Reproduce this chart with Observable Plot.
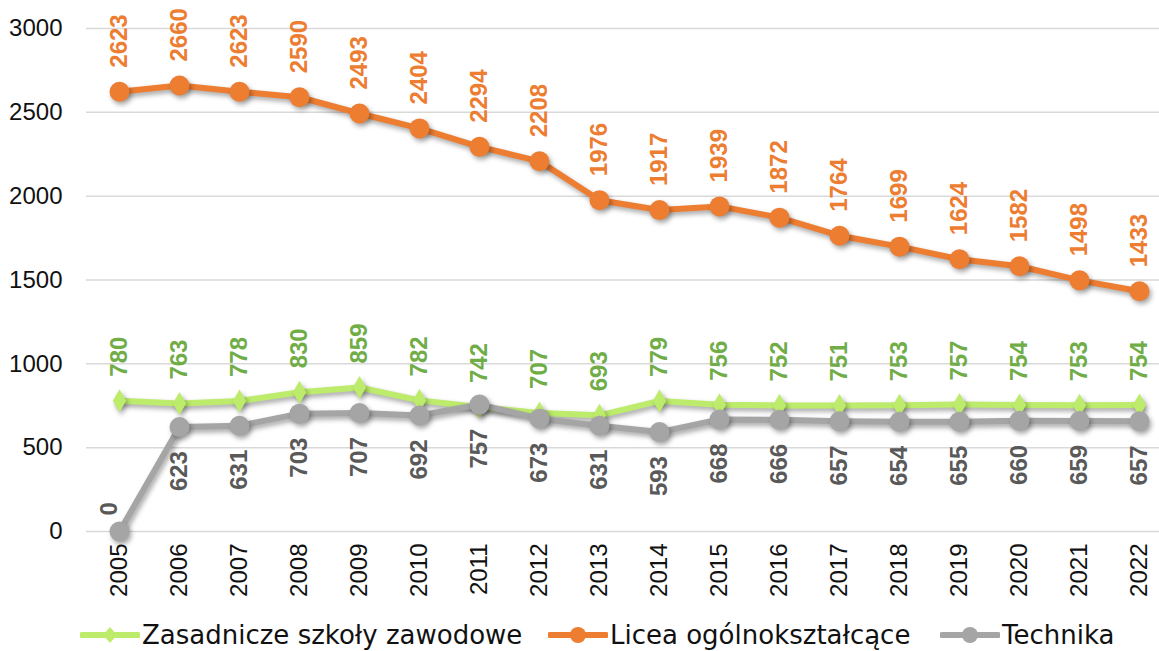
<!DOCTYPE html>
<html>
<head>
<meta charset="utf-8">
<script src="https://cdn.jsdelivr.net/npm/d3@7"></script>
<script src="https://cdn.jsdelivr.net/npm/@observablehq/plot@0.6"></script>
<style>
  html, body { margin: 0; padding: 0; background: #fff; }
  #wrap { position: relative; width: 1159px; height: 651px; overflow: hidden; }
  #chart svg g[aria-label="line"], #chart svg g[aria-label="dot"] {
    filter: drop-shadow(2px 3px 2.5px rgba(0,0,0,0.35));
  }
  #legend { position: absolute; left: 0; top: 617px; width: 1159px; height: 36px; font-family: "DejaVu Sans", sans-serif; font-size: 26px; color: #111; }
  .item { position: absolute; top: 0; height: 36px; display: flex; align-items: center; }
  .item svg { margin-right: 2px; }
</style>
</head>
<body>
<div id="wrap">
  <div id="chart"></div>
  <div id="legend"></div>
</div>
<script>
const years = [2005,2006,2007,2008,2009,2010,2011,2012,2013,2014,2015,2016,2017,2018,2019,2020,2021,2022];
const zasadnicze = [780,763,778,830,859,782,742,707,693,779,756,752,751,753,757,754,753,754];
const licea = [2623,2660,2623,2590,2493,2404,2294,2208,1976,1917,1939,1872,1764,1699,1624,1582,1498,1433];
const technika = [0,623,631,703,707,692,757,673,631,593,668,666,657,654,655,660,659,657];
const yTicks = [0,500,1000,1500,2000,2500,3000];
const seriesNames = ["Zasadnicze szkoły zawodowe", "Licea ogólnokształcące", "Technika"];

const colors = {
  zLine: "#BDEB6C", zLabel: "#70AD47",
  lLine: "#ED7D31", lLabel: "#ED7D31",
  tLine: "#A5A5A5", tLabel: "#595959"
};

const zData = years.map((y, i) => ({year: y, value: zasadnicze[i]}));
const lData = years.map((y, i) => ({year: y, value: licea[i]}));
const tData = years.map((y, i) => ({year: y, value: technika[i]}));
const tBelow = tData.filter(d => d.value !== 0);
const tAbove = tData.filter(d => d.value === 0);

const labelFont = {fontFamily: "Liberation Sans, Arial, sans-serif", fontWeight: "bold", fontSize: 24};

const plot = Plot.plot({
  width: 1159,
  height: 615,
  marginLeft: 86,
  marginRight: 0,
  marginTop: 28,
  marginBottom: 84,
  style: {fontFamily: "Liberation Sans, Arial, sans-serif", fontSize: "24px", color: "#111", background: "#fff"},
  x: {type: "point", domain: years, range: [116, 1142], padding: 0, axis: null},
  y: {domain: [0, 3000], axis: null},
  marks: [
    Plot.ruleY(yTicks, {stroke: "#d9d9d9", strokeWidth: 1.5}),
    Plot.axisY({ticks: yTicks, tickSize: 0, tickPadding: 24, fontSize: 24, fill: "#111", label: null, tickFormat: d => String(d)}),
    Plot.axisX({tickSize: 0, tickRotate: -90, tickPadding: 12, fontSize: 24, fill: "#111", label: null, tickFormat: d => String(d)}),
    Plot.line(zData, {x: "year", y: "value", stroke: colors.zLine, strokeWidth: 6}),
    Plot.dot(zData, {x: "year", y: "value", symbol: "diamond", r: 7, fill: colors.zLine}),
    Plot.line(tData, {x: "year", y: "value", stroke: colors.tLine, strokeWidth: 6}),
    Plot.dot(tData, {x: "year", y: "value", r: 10, fill: colors.tLine}),
    Plot.line(lData, {x: "year", y: "value", stroke: colors.lLine, strokeWidth: 6}),
    Plot.dot(lData, {x: "year", y: "value", r: 10, fill: colors.lLine}),
    Plot.text(lData, {x: "year", y: "value", text: d => String(d.value), rotate: -90, textAnchor: "start", lineAnchor: "middle", dy: -24, fill: colors.lLabel, ...labelFont}),
    Plot.text(zData, {x: "year", y: "value", text: d => String(d.value), rotate: -90, textAnchor: "start", lineAnchor: "middle", dy: -24, fill: colors.zLabel, ...labelFont}),
    Plot.text(tBelow, {x: "year", y: "value", text: d => String(d.value), rotate: -90, textAnchor: "end", lineAnchor: "middle", dy: 24, fill: colors.tLabel, ...labelFont}),
    Plot.text(tAbove, {x: "year", y: "value", text: d => String(d.value), rotate: -90, textAnchor: "start", lineAnchor: "middle", dy: -16, dx: -10, fill: colors.tLabel, ...labelFont})
  ]
});
document.getElementById("chart").appendChild(plot);

// Legend
const legend = document.getElementById("legend");
const legendItems = [
  {name: seriesNames[0], color: colors.zLine, shape: "diamond", left: 80},
  {name: seriesNames[1], color: colors.lLine, shape: "circle", left: 548},
  {name: seriesNames[2], color: colors.tLine, shape: "circle", left: 940}
];
for (const it of legendItems) {
  const div = document.createElement("div");
  div.className = "item";
  div.style.left = it.left + "px";
  const ns = "http://www.w3.org/2000/svg";
  const s = document.createElementNS(ns, "svg");
  s.setAttribute("width", 60); s.setAttribute("height", 24);
  const ln = document.createElementNS(ns, "line");
  ln.setAttribute("x1", 2); ln.setAttribute("x2", 58); ln.setAttribute("y1", 12); ln.setAttribute("y2", 12);
  ln.setAttribute("stroke", it.color); ln.setAttribute("stroke-width", 6); ln.setAttribute("stroke-linecap", "round");
  s.appendChild(ln);
  let m;
  if (it.shape === "circle") {
    m = document.createElementNS(ns, "circle");
    m.setAttribute("cx", 30); m.setAttribute("cy", 12); m.setAttribute("r", 8);
  } else {
    m = document.createElementNS(ns, "path");
    m.setAttribute("d", "M30,4 L37,12 L30,20 L23,12 Z");
  }
  m.setAttribute("fill", it.color);
  s.appendChild(m);
  div.appendChild(s);
  const span = document.createElement("span");
  span.textContent = it.name;
  div.appendChild(span);
  legend.appendChild(div);
}
</script>
</body>
</html>
